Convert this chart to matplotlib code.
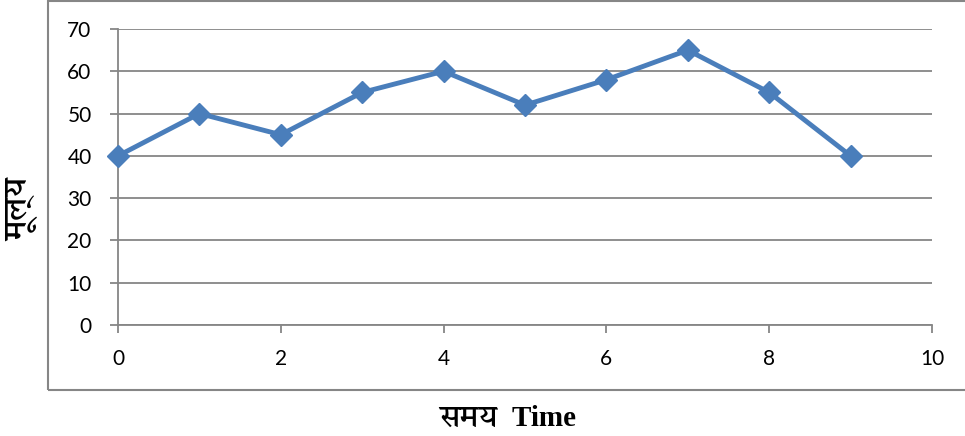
import matplotlib
matplotlib.use("Agg")
import matplotlib.pyplot as plt
from matplotlib.patches import Rectangle

# data
time = [0, 1, 2, 3, 4, 5, 6, 7, 8, 9]
value = [40, 50, 45, 55, 60, 52, 58, 65, 55, 40]
xticks = [0, 2, 4, 6, 8, 10]
yticks = [0, 10, 20, 30, 40, 50, 60, 70]

grey = "#868686"
blue = "#4A7EBB"
label_fonts = ["Liberation Serif", "Martel", "Noto Sans Devanagari",
               "Noto Serif Devanagari", "DejaVu Sans"]

fig = plt.figure(figsize=(9.65, 4.36), dpi=100)
ax = fig.add_axes([118 / 965, 1 - 325 / 436, (932 - 118) / 965, (325 - 29) / 436])

ax.plot(time, value, color=blue, lw=3.5, marker="D", markersize=11.5,
        markerfacecolor=blue, markeredgecolor=blue, clip_on=False, zorder=3)

ax.set_xlim(0, 10)
ax.set_ylim(0, 70)
ax.set_xticks(xticks)
ax.set_yticks(yticks)
ax.grid(axis="y", color=grey, lw=1.3)
ax.set_axisbelow(True)

for s in ["top", "right"]:
    ax.spines[s].set_visible(False)
for s in ["left", "bottom"]:
    ax.spines[s].set_color(grey)
    ax.spines[s].set_linewidth(1.3)

ax.tick_params(axis="both", direction="out", length=6, width=1.3, color=grey,
               labelsize=15, labelcolor="black")
ax.tick_params(axis="y", pad=13)
ax.tick_params(axis="x", pad=11)
for lab in ax.get_xticklabels() + ax.get_yticklabels():
    lab.set_family("Lato")

fig.text(508 / 965, 1 - 418 / 436, "समय  Time", ha="center", va="center",
         fontsize=21, fontweight="bold", family=label_fonts)
fig.text(22 / 965, 1 - 209 / 436, "मूल्य", ha="center", va="center", rotation=90,
         fontsize=22, fontweight="bold", family=label_fonts)

# chart area border
fig.add_artist(Rectangle((48 / 965, 1 - 390 / 436), 1.0, 389 / 436,
                         transform=fig.transFigure, fill=False,
                         edgecolor=grey, lw=1.5))

fig.savefig("out.png", dpi=100)
